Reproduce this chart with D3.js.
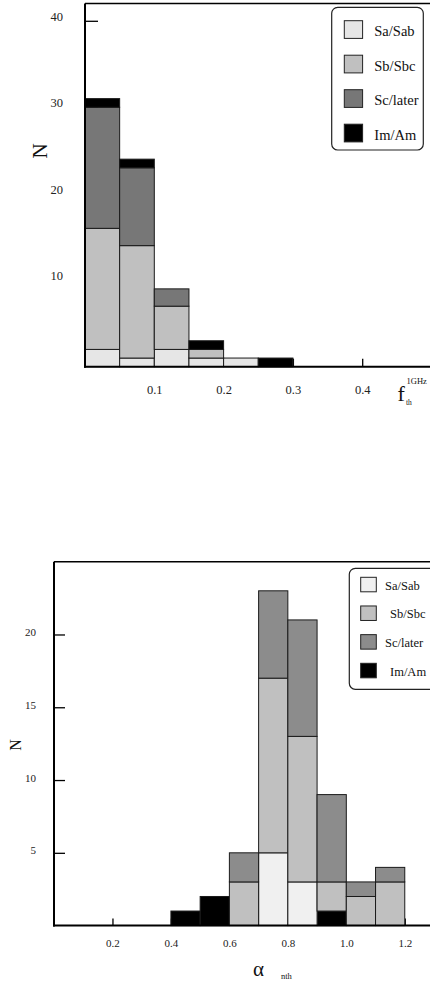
<!DOCTYPE html>
<html><head><meta charset="utf-8">
<script src="https://cdn.jsdelivr.net/npm/d3@7"></script>
<style>
html,body{margin:0;padding:0;background:#fff;}
svg{display:block;font-family:"Liberation Serif","Times New Roman",serif;}
</style></head>
<body>
<svg id="chart" width="430" height="982"></svg>
<script>
// ---- Top panel data (f_th^1GHz) ----
const typeNames = ["Sa/Sab", "Sb/Sbc", "Sc/later", "Im/Am"];
const topBinStart = [0.00, 0.05, 0.10, 0.15, 0.20, 0.25];
const topBinWidth = 0.05;
const topSa = [2, 1, 2, 1, 1, 0];
const topSb = [14, 13, 5, 1, 0, 0];
const topSc = [14, 9, 2, 0, 0, 0];
const topIm = [1, 1, 0, 1, 0, 1];
const topXTicks = [0.1, 0.2, 0.3, 0.4];
const topYTicks = [10, 20, 30, 40];

// ---- Bottom panel data (alpha_nth) ----
const botBinStart = [0.4, 0.5, 0.6, 0.7, 0.8, 0.9, 1.0, 1.1];
const botBinWidth = 0.1;
const botSa = [0, 0, 0, 5, 3, 0, 0, 0];
const botSb = [0, 0, 3, 12, 10, 2, 2, 3];
const botSc = [0, 0, 2, 6, 8, 6, 1, 1];
const botIm = [1, 2, 0, 0, 0, 1, 0, 0];
const botXTicks = [0.2, 0.4, 0.6, 0.8, 1.0, 1.2];
const botYTicks = [5, 10, 15, 20];

const svg = d3.select("#chart");

function panel(cfg) {
  const g = svg.append("g");
  const x = d3.scaleLinear().domain(cfg.xDomain).range([cfg.left, cfg.right]);
  const y = d3.scaleLinear().domain(cfg.yDomain).range([cfg.bottom, cfg.top]);

  // y ticks (inward) + labels
  const yAx = d3.axisLeft(y).tickValues(cfg.yTicks).tickSizeInner(-cfg.yTickLen).tickSizeOuter(0)
    .tickPadding(cfg.yPad).tickFormat(d3.format("d"));
  const ya = g.append("g").attr("transform", `translate(${cfg.left},0)`).call(yAx);
  ya.select(".domain").remove();
  ya.selectAll("line").attr("stroke", "#000").attr("stroke-width", 1.3);
  ya.selectAll("text").attr("font-size", cfg.yFont).attr("dy", cfg.yDy)
    .attr("font-family", "Liberation Serif").attr("fill", "#222");

  // x ticks (inward) + labels
  const xAx = d3.axisBottom(x).tickValues(cfg.xTicks).tickSizeInner(-cfg.xTickLen).tickSizeOuter(0)
    .tickPadding(cfg.xPad).tickFormat(d3.format(".1f"));
  const xa = g.append("g").attr("transform", `translate(0,${cfg.bottom})`).call(xAx);
  xa.select(".domain").remove();
  xa.selectAll("line").attr("stroke", "#000").attr("stroke-width", 1.3);
  xa.selectAll("text").attr("font-size", cfg.xFont).attr("dy", cfg.xDy)
    .attr("font-family", "Liberation Serif").attr("fill", "#222");

  // stacked bars
  const rows = cfg.binStart.map((b, i) => {
    const r = { b };
    cfg.keys.forEach(k => r[k] = cfg.series[k][i]);
    return r;
  });
  const stack = d3.stack().keys(cfg.order)(rows);
  stack.forEach(layer => {
    g.append("g").selectAll("rect")
      .data(layer.filter(d => d[1] - d[0] > 0))
      .join("rect")
      .attr("x", d => x(d.data.b))
      .attr("width", d => x(d.data.b + cfg.binWidth) - x(d.data.b))
      .attr("y", d => y(d[1]))
      .attr("height", d => y(d[0]) - y(d[1]))
      .attr("fill", cfg.colors[layer.key])
      .attr("stroke", "#1a1a1a")
      .attr("stroke-width", 1);
  });

  // frame: top + left, bottom axis line
  g.append("line").attr("x1", cfg.left).attr("x2", cfg.left + 500).attr("y1", cfg.top).attr("y2", cfg.top)
    .attr("stroke", "#000").attr("stroke-width", 1.6);
  g.append("line").attr("x1", cfg.left).attr("x2", cfg.left).attr("y1", cfg.top).attr("y2", cfg.bottom + 1)
    .attr("stroke", "#000").attr("stroke-width", 2);
  g.append("line").attr("x1", cfg.left - 1).attr("x2", cfg.left + 500).attr("y1", cfg.bottom).attr("y2", cfg.bottom)
    .attr("stroke", "#000").attr("stroke-width", 2);

  // legend
  const L = cfg.legend;
  g.append("rect").attr("x", L.x).attr("y", L.y).attr("width", L.w).attr("height", L.h)
    .attr("rx", 6).attr("fill", "#fff").attr("stroke", "#222").attr("stroke-width", 1.2);
  typeNames.forEach((name, i) => {
    const k = cfg.keys[i];
    const sy = L.sy + i * L.step;
    g.append("rect").attr("x", L.sx).attr("y", sy).attr("width", L.sw).attr("height", L.sh)
      .attr("fill", cfg.colors[k]).attr("stroke", "#222").attr("stroke-width", 1);
    g.append("text").attr("x", L.tx + (L.tdx ? L.tdx[i] : 0)).attr("y", sy + L.sh / 2 + L.tdy)
      .attr("font-size", L.font).attr("fill", "#111").text(name);
  });

  // N label (rotated)
  g.append("text").attr("transform", `translate(${cfg.nX},${cfg.nY}) rotate(-90)`)
    .attr("text-anchor", "middle").attr("font-size", cfg.nFont).attr("fill", "#111").text("N");
  return { g, x, y };
}

const keys = ["Sa", "Sb", "Sc", "Im"];

const topPanel = panel({
  xDomain: [0, 0.5], yDomain: [0, 42],
  left: 85, right: 431.5, top: 3.5, bottom: 366.7,
  yTicks: topYTicks, xTicks: topXTicks,
  yTickLen: 13, xTickLen: 8, yPad: 22, xPad: 18,
  yFont: 12.5, xFont: 12.5, yDy: "-0.05em", xDy: "0.71em",
  binStart: topBinStart, binWidth: topBinWidth, keys,
  series: { Sa: topSa, Sb: topSb, Sc: topSc, Im: topIm },
  order: ["Sa", "Sb", "Sc", "Im"],
  colors: { Sa: "#e6e6e6", Sb: "#c0c0c0", Sc: "#777777", Im: "#000000" },
  legend: { x: 331.7, y: 7.3, w: 91.6, h: 142.7, sx: 344.3, sy: 20.7, sw: 18.3, sh: 17.7, step: 34.5,
            tx: 374.3, tdy: 6.5, font: 14.5 },
  nX: 47, nY: 151, nFont: 21
});

// top x-axis label f_th^1GHz
svg.append("text").attr("x", 397.5).attr("y", 401).attr("font-size", 22).attr("fill", "#111").text("f");
svg.append("text").attr("x", 406.5).attr("y", 384).attr("font-size", 8.5).attr("fill", "#111").text("1GHz");
svg.append("text").attr("x", 406).attr("y", 405).attr("font-size", 7.5).attr("fill", "#111").text("th");

const botPanel = panel({
  xDomain: [0, 1.3], yDomain: [0, 25],
  left: 54, right: 434, top: 561.7, bottom: 925.6,
  yTicks: botYTicks, xTicks: botXTicks,
  yTickLen: 11, xTickLen: 7, yPad: 18, xPad: 14,
  yFont: 11, xFont: 11, yDy: "0.1em", xDy: "0.71em",
  binStart: botBinStart, binWidth: botBinWidth, keys,
  series: { Sa: botSa, Sb: botSb, Sc: botSc, Im: botIm },
  order: ["Im", "Sa", "Sb", "Sc"],
  colors: { Sa: "#f0f0f0", Sb: "#c0c0c0", Sc: "#8c8c8c", Im: "#000000" },
  legend: { x: 349.3, y: 568.3, w: 100, h: 121, sx: 360.7, sy: 577.3, sw: 15.6, sh: 14.5, step: 28.67,
            tx: 385, tdx: [0, 5, 0, 5], tdy: 5, font: 12.5 },
  nX: 21, nY: 745, nFont: 16
});

// bottom x-axis label alpha_nth
svg.append("text").attr("x", 253).attr("y", 976).attr("font-size", 21).attr("fill", "#111").text("α");
svg.append("text").attr("x", 281).attr("y", 979).attr("font-size", 8.5).attr("fill", "#111").text("nth");
</script>
</body></html>
